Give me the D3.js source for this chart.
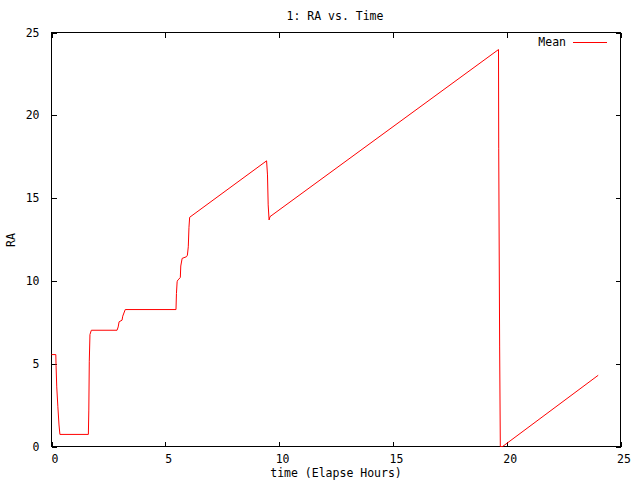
<!DOCTYPE html>
<html>
<head>
<meta charset="utf-8">
<script src="https://cdn.jsdelivr.net/npm/d3@7"></script>
<style>
  html, body { margin: 0; padding: 0; background: #fff; }
  svg { display: block; }
  text { font-family: "DejaVu Sans Mono", "Liberation Mono", monospace; font-size: 11.5px; fill: #000; }
</style>
</head>
<body>
<svg id="chart" width="640" height="480"></svg>
<script>
// ---- data ----
const titleText = "1: RA vs. Time";
const xLabelText = "time (Elapse Hours)";
const yLabelText = "RA";
const seriesName = "Mean";
const xTickValues = [0, 5, 10, 15, 20, 25];
const yTickValues = [0, 5, 10, 15, 20, 25];
const timeHours = [0, 0.19, 0.20, 0.23, 0.28, 0.33, 0.37, 1.62, 1.64, 1.66, 1.69, 1.75,
  2.88, 2.93, 2.97, 3.10, 3.13, 3.24, 5.47, 5.49, 5.52, 5.55, 5.66, 5.68, 5.74, 5.93,
  5.97, 6.01, 6.04, 6.07, 9.45, 9.49, 9.52, 9.56, 9.60, 19.64, 19.65, 19.69, 19.72,
  19.82, 24.02];
const raMean = [5.55, 5.55, 4.90, 3.60, 2.40, 1.30, 0.73, 0.73, 2.20, 5.15, 6.76, 7.02,
  7.02, 7.22, 7.53, 7.63, 7.87, 8.27, 8.27, 9.24, 9.95, 10.05, 10.20, 10.90, 11.36, 11.46,
  11.55, 12.06, 13.24, 13.84, 17.25, 16.40, 14.59, 13.68, 13.88, 23.97, 17.98, 6.01, 0,
  0, 4.30];

// ---- layout ----
const svg = d3.select("#chart");
const L = 51.5, R = 620.5, T = 32.5, B = 446.5;
const x = d3.scaleLinear().domain([0, 25]).range([L, R]);
const y = d3.scaleLinear().domain([0, 25]).range([B, T]);
const tick = 5;

// axes (ticks point inward, mirrored on top/right)
const gx = svg.append("g").attr("transform", `translate(0,${B})`)
  .call(d3.axisBottom(x).tickValues(xTickValues).tickSizeInner(-tick).tickSizeOuter(0).tickPadding(10).tickFormat(d3.format("d")));
const gxTop = svg.append("g").attr("transform", `translate(0,${T})`)
  .call(d3.axisTop(x).tickValues(xTickValues).tickSizeInner(-tick).tickSizeOuter(0).tickFormat(""));
const gy = svg.append("g").attr("transform", `translate(${L},0)`)
  .call(d3.axisLeft(y).tickValues(yTickValues).tickSizeInner(-tick).tickSizeOuter(0).tickPadding(12).tickFormat(d3.format("d")));
const gyR = svg.append("g").attr("transform", `translate(${R},0)`)
  .call(d3.axisRight(y).tickValues(yTickValues).tickSizeInner(-tick).tickSizeOuter(0).tickFormat(""));

[gx, gxTop, gy, gyR].forEach(g => {
  g.selectAll(".domain").remove();
  g.selectAll("line").attr("stroke", "#000").attr("shape-rendering", "crispEdges");
  g.selectAll("text").attr("font-family", null).attr("font-size", null).attr("fill", "#000");
});
gx.selectAll("text").attr("dx", 3).attr("dy", "0.6em");
gy.selectAll("text").attr("dx", 0);

// border
svg.append("rect").attr("x", L).attr("y", T).attr("width", R - L).attr("height", B - T)
  .attr("fill", "none").attr("stroke", "#000").attr("shape-rendering", "crispEdges");

// series line
const pts = timeHours.map((t, i) => [t, raMean[i]]);
const line = d3.line().x(d => x(d[0])).y(d => y(d[1]));
svg.append("path").datum(pts).attr("d", line)
  .attr("fill", "none").attr("stroke", "#ff0000").attr("stroke-width", 1);

// title & labels
svg.append("text").attr("x", 335).attr("y", 20).attr("text-anchor", "middle").text(titleText);
svg.append("text").attr("x", 336).attr("y", 477).attr("text-anchor", "middle").text(xLabelText);
svg.append("text").attr("transform", "translate(15,240) rotate(-90)").attr("text-anchor", "middle").text(yLabelText);

// legend
svg.append("text").attr("x", 566).attr("y", 46).attr("text-anchor", "end").text(seriesName);
svg.append("line").attr("x1", 573).attr("x2", 607).attr("y1", 42.5).attr("y2", 42.5)
  .attr("stroke", "#ff0000").attr("stroke-width", 1);
</script>
</body>
</html>
